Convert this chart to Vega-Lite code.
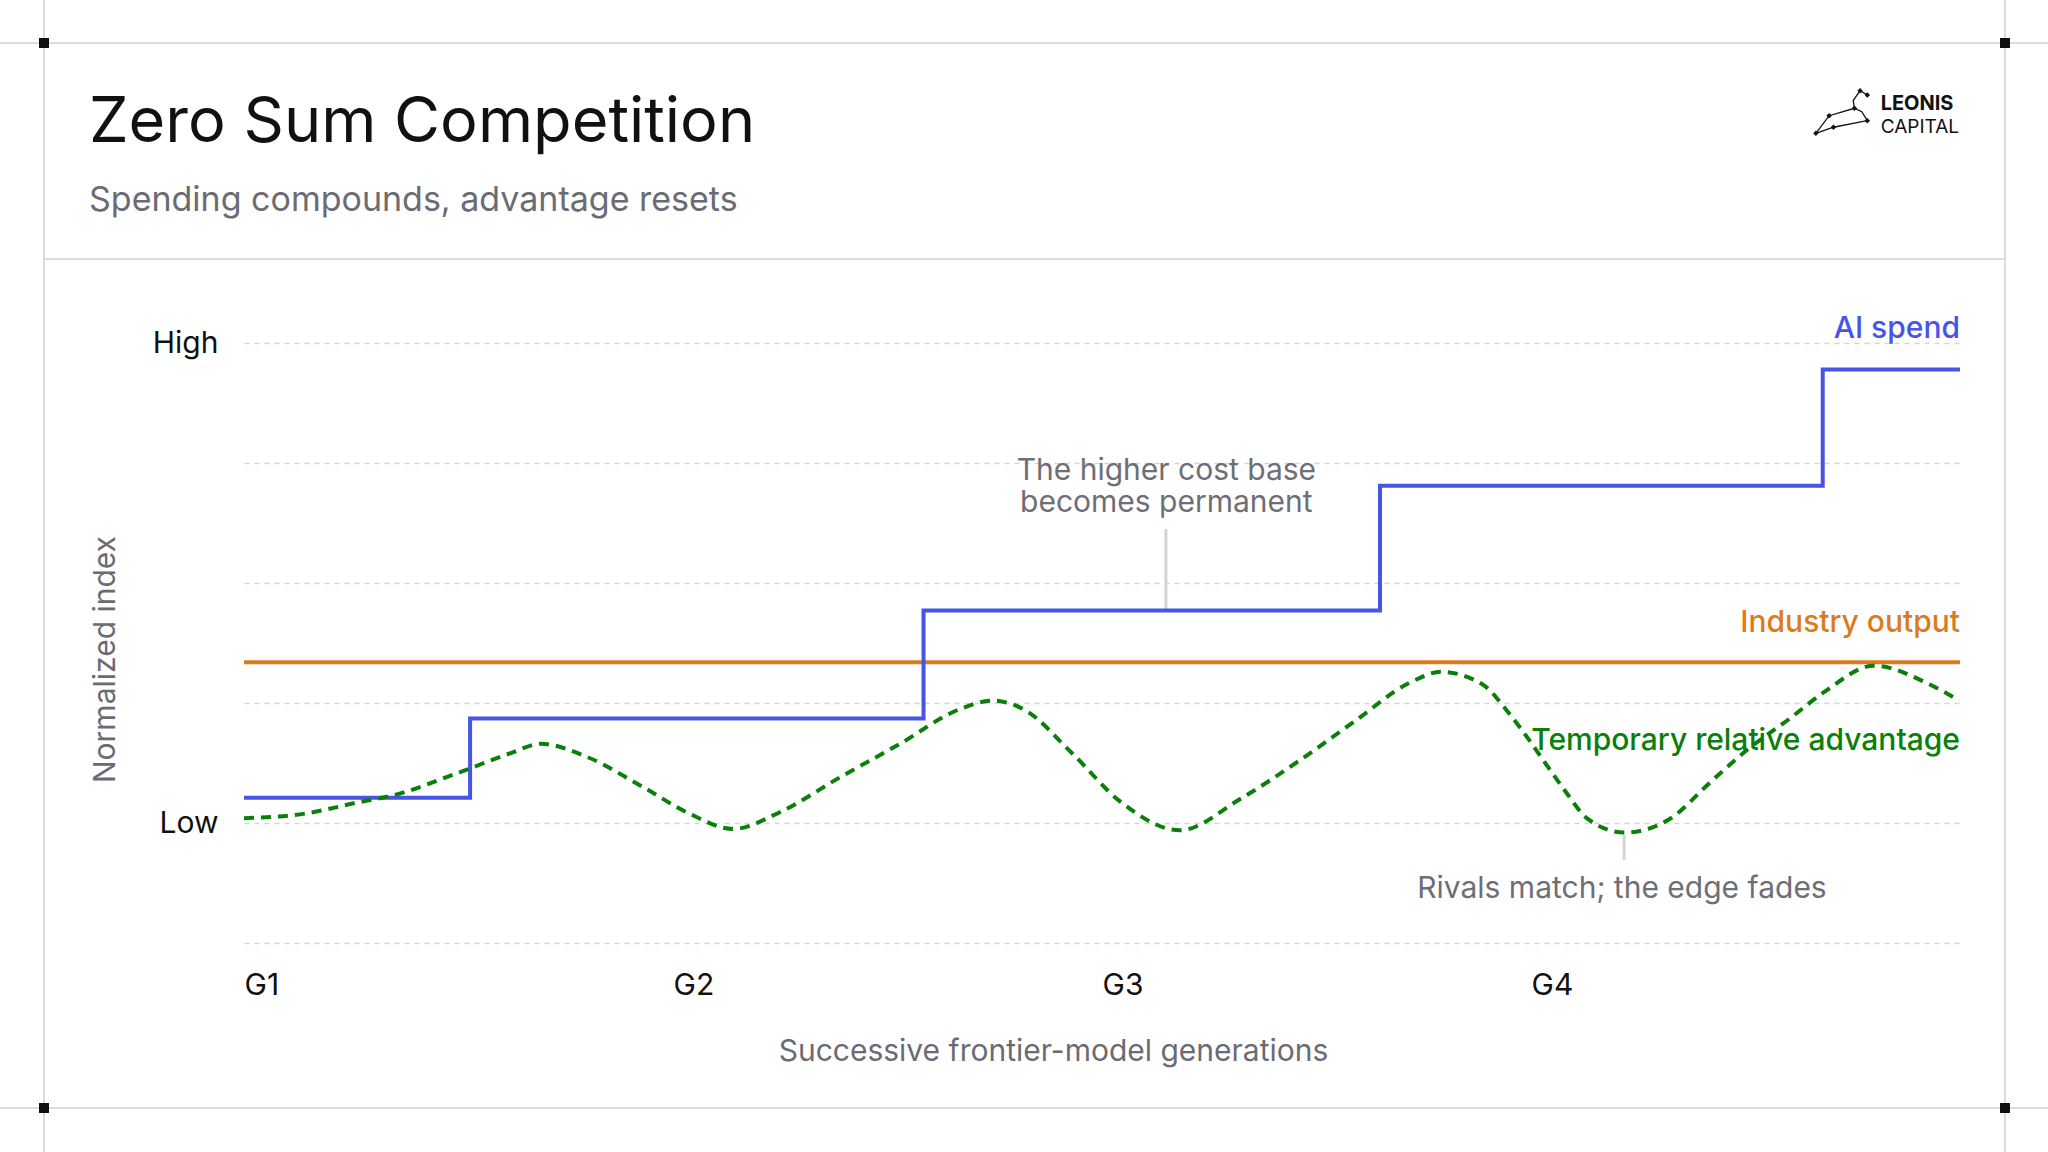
{
  "$schema": "https://vega.github.io/schema/vega-lite/v6.json",
  "width": 1716,
  "height": 600,
  "autosize": "none",
  "padding": {"left": 244, "top": 343, "right": 88, "bottom": 209},
  "background": "#ffffff",
  "config": {
    "view": {"stroke": null},
    "text": {"font": "Inter"},
    "axis": {"labelFont": "Inter", "titleFont": "Inter"}
  },
  "datasets": {
    "frame": [
      {"x": -0.5688, "x2": 4.2051, "y": 7.5, "y2": 7.5},
      {"x": -0.4662, "x2": 4.1049, "y": 5.7, "y2": 5.7},
      {"x": -0.5688, "x2": 4.2051, "y": -1.375, "y2": -1.375},
      {"x": -0.4662, "x2": -0.4662, "y": 7.8583, "y2": -1.7417},
      {"x": 4.1049, "x2": 4.1049, "y": 7.8583, "y2": -1.7417}
    ],
    "corners": [
      {"x": -0.4662, "y": 7.5},
      {"x": 4.1049, "y": 7.5},
      {"x": -0.4662, "y": -1.375},
      {"x": 4.1049, "y": -1.375}
    ],
    "heading": [
      {"line": "Zero Sum Competition", "x": -0.3613, "y": 6.6775}
    ],
    "subheading": [
      {"line": "Spending compounds, advantage resets", "x": -0.3613, "y": 6.1025}
    ],
    "output": [
      {"series": "Industry output", "x": 0, "y": 2.34},
      {"series": "Industry output", "x": 4, "y": 2.34}
    ],
    "spend": [
      {"series": "AI spend", "x": 0, "y": 1.21},
      {"series": "AI spend", "x": 0.527, "y": 1.87},
      {"series": "AI spend", "x": 1.584, "y": 2.77},
      {"series": "AI spend", "x": 2.648, "y": 3.81},
      {"series": "AI spend", "x": 3.68, "y": 4.78},
      {"series": "AI spend", "x": 4.0, "y": 4.78}
    ],
    "advantage": [
      {"series": "Temporary relative advantage", "x": 0.0, "y": 1.04},
      {"series": "Temporary relative advantage", "x": 0.145, "y": 1.08},
      {"series": "Temporary relative advantage", "x": 0.263, "y": 1.17},
      {"series": "Temporary relative advantage", "x": 0.347, "y": 1.23},
      {"series": "Temporary relative advantage", "x": 0.501, "y": 1.42},
      {"series": "Temporary relative advantage", "x": 0.62, "y": 1.58},
      {"series": "Temporary relative advantage", "x": 0.692, "y": 1.66},
      {"series": "Temporary relative advantage", "x": 0.8, "y": 1.55},
      {"series": "Temporary relative advantage", "x": 0.93, "y": 1.3},
      {"series": "Temporary relative advantage", "x": 1.037, "y": 1.08},
      {"series": "Temporary relative advantage", "x": 1.14, "y": 0.95},
      {"series": "Temporary relative advantage", "x": 1.249, "y": 1.09},
      {"series": "Temporary relative advantage", "x": 1.389, "y": 1.38},
      {"series": "Temporary relative advantage", "x": 1.529, "y": 1.66},
      {"series": "Temporary relative advantage", "x": 1.669, "y": 1.95},
      {"series": "Temporary relative advantage", "x": 1.744, "y": 2.02},
      {"series": "Temporary relative advantage", "x": 1.816, "y": 1.95},
      {"series": "Temporary relative advantage", "x": 1.932, "y": 1.575},
      {"series": "Temporary relative advantage", "x": 2.042, "y": 1.18},
      {"series": "Temporary relative advantage", "x": 2.182, "y": 0.94},
      {"series": "Temporary relative advantage", "x": 2.322, "y": 1.2},
      {"series": "Temporary relative advantage", "x": 2.462, "y": 1.525},
      {"series": "Temporary relative advantage", "x": 2.586, "y": 1.84},
      {"series": "Temporary relative advantage", "x": 2.718, "y": 2.17},
      {"series": "Temporary relative advantage", "x": 2.79, "y": 2.26},
      {"series": "Temporary relative advantage", "x": 2.889, "y": 2.15},
      {"series": "Temporary relative advantage", "x": 2.943, "y": 1.94},
      {"series": "Temporary relative advantage", "x": 2.99, "y": 1.72},
      {"series": "Temporary relative advantage", "x": 3.037, "y": 1.48},
      {"series": "Temporary relative advantage", "x": 3.083, "y": 1.25},
      {"series": "Temporary relative advantage", "x": 3.13, "y": 1.04},
      {"series": "Temporary relative advantage", "x": 3.219, "y": 0.92},
      {"series": "Temporary relative advantage", "x": 3.326, "y": 1.04},
      {"series": "Temporary relative advantage", "x": 3.415, "y": 1.33},
      {"series": "Temporary relative advantage", "x": 3.504, "y": 1.61},
      {"series": "Temporary relative advantage", "x": 3.603, "y": 1.87},
      {"series": "Temporary relative advantage", "x": 3.683, "y": 2.09},
      {"series": "Temporary relative advantage", "x": 3.799, "y": 2.31},
      {"series": "Temporary relative advantage", "x": 3.932, "y": 2.15},
      {"series": "Temporary relative advantage", "x": 3.998, "y": 2.02}
    ],
    "seriesLabels": [
      {"series": "AI spend", "x": 4, "y": 5.04},
      {"series": "Industry output", "x": 4, "y": 2.594},
      {"series": "Temporary relative advantage", "x": 4, "y": 1.608}
    ],
    "notes": [
      {"note": "The higher cost base\nbecomes permanent", "x": 2.15, "y": 3.858},
      {"note": "Rivals match; the edge fades", "x": 3.212, "y": 0.371}
    ],
    "connectors": [
      {"x": 2.149, "y": 2.77, "y2": 3.45},
      {"x": 3.217, "y": 0.9, "y2": 0.69}
    ],
    "logoLines": [
      {"seg": "a", "order": 1, "x": 3.664, "y": 6.747},
      {"seg": "a", "order": 2, "x": 3.695, "y": 6.894},
      {"seg": "a", "order": 3, "x": 3.754, "y": 6.956},
      {"seg": "a", "order": 4, "x": 3.771, "y": 6.928},
      {"seg": "a", "order": 5, "x": 3.784, "y": 6.853},
      {"seg": "a", "order": 6, "x": 3.705, "y": 6.798},
      {"seg": "a", "order": 7, "x": 3.664, "y": 6.747},
      {"seg": "b", "order": 1, "x": 3.754, "y": 6.956},
      {"seg": "b", "order": 2, "x": 3.751, "y": 7.019},
      {"seg": "b", "order": 3, "x": 3.767, "y": 7.103},
      {"seg": "b", "order": 4, "x": 3.784, "y": 7.067}
    ],
    "logoStars": [
      {"x": 3.664, "y": 6.747},
      {"x": 3.695, "y": 6.894},
      {"x": 3.754, "y": 6.956},
      {"x": 3.784, "y": 6.853},
      {"x": 3.705, "y": 6.798},
      {"x": 3.767, "y": 7.103},
      {"x": 3.784, "y": 7.067}
    ]
  },
  "encoding": {
    "x": {
      "field": "x",
      "type": "quantitative",
      "scale": {"domain": [0, 4], "nice": false, "zero": false},
      "axis": {
        "values": [0, 1, 2, 3],
        "labelExpr": "'G' + (datum.value + 1)",
        "labelAlign": "left",
        "labelFlush": false,
        "labelOverlap": false,
        "grid": false,
        "domain": false,
        "ticks": false,
        "tickSize": 0,
        "labelPadding": 27,
        "labelFontSize": 30,
        "labelColor": "#111111",
        "title": "Successive frontier-model generations",
        "titleFontSize": 30,
        "titleFontWeight": 400,
        "titleColor": "#6b6b73",
        "titleX": 809,
        "titleY": 108,
        "titleBaseline": "middle"
      }
    },
    "y": {
      "field": "y",
      "type": "quantitative",
      "scale": {"domain": [0, 5], "nice": false, "zero": false},
      "axis": {
        "values": [0, 1, 2, 3, 4, 5],
        "labelExpr": "datum.value == 5 ? 'High' : datum.value == 1 ? 'Low' : ''",
        "grid": true,
        "gridDash": [5, 5],
        "gridColor": "#d4d4d4",
        "gridWidth": 1.5,
        "domain": false,
        "ticks": false,
        "tickSize": 0,
        "labelPadding": 26,
        "labelFontSize": 30,
        "labelColor": "#111111",
        "title": "Normalized index",
        "titleFontSize": 30,
        "titleFontWeight": 400,
        "titleColor": "#6b6b73",
        "titleX": -139,
        "titleY": 316,
        "titleBaseline": "middle",
        "titleAngle": -90
      }
    }
  },
  "layer": [
    {
      "data": {"name": "frame"},
      "mark": {"type": "rule", "color": "#dcdcdc", "strokeWidth": 2},
      "encoding": {"x2": {"field": "x2"}, "y2": {"field": "y2"}}
    },
    {
      "data": {"name": "corners"},
      "mark": {"type": "point", "shape": "square", "filled": true, "size": 100, "color": "#111111", "opacity": 1}
    },
    {
      "data": {"name": "heading"},
      "mark": {"type": "text", "align": "left", "baseline": "alphabetic", "fontSize": 63, "fontWeight": 400, "color": "#111111"},
      "encoding": {"text": {"field": "line"}}
    },
    {
      "data": {"name": "subheading"},
      "mark": {"type": "text", "align": "left", "baseline": "alphabetic", "fontSize": 34, "fontWeight": 400, "color": "#6b6b73"},
      "encoding": {"text": {"field": "line"}}
    },
    {
      "data": {"name": "connectors"},
      "mark": {"type": "rule", "color": "#d4d4d8", "strokeWidth": 3},
      "encoding": {"y2": {"field": "y2"}}
    },
    {
      "data": {"name": "seriesLabels"},
      "mark": {"type": "text", "align": "right", "baseline": "alphabetic", "fontSize": 30, "fontWeight": 500},
      "encoding": {
        "text": {"field": "series"},
        "color": {
          "field": "series",
          "type": "nominal",
          "scale": {"domain": ["AI spend", "Industry output", "Temporary relative advantage"], "range": ["#4654e8", "#dc7b1e", "#0a7f0a"]},
          "legend": null
        }
      }
    },
    {
      "data": {"name": "notes"},
      "mark": {"type": "text", "align": "center", "baseline": "alphabetic", "fontSize": 30, "lineBreak": "\n", "lineHeight": 32, "color": "#6e6e76"},
      "encoding": {"text": {"field": "note"}}
    },
    {
      "data": {"name": "output"},
      "mark": {"type": "line", "strokeWidth": 4},
      "encoding": {
        "color": {"field": "series", "type": "nominal", "legend": null}
      }
    },
    {
      "data": {"name": "spend"},
      "mark": {"type": "line", "strokeWidth": 4, "interpolate": "step-after"},
      "encoding": {
        "color": {"field": "series", "type": "nominal", "legend": null}
      }
    },
    {
      "data": {"name": "advantage"},
      "mark": {"type": "line", "strokeWidth": 4, "interpolate": "monotone", "strokeDash": [10, 7]},
      "encoding": {
        "color": {"field": "series", "type": "nominal", "legend": null}
      }
    },
    {
      "data": {"name": "logoLines"},
      "mark": {"type": "line", "color": "#111111", "strokeWidth": 1.3},
      "encoding": {"detail": {"field": "seg"}, "order": {"field": "order", "type": "quantitative"}}
    },
    {
      "data": {"name": "logoStars"},
      "mark": {"type": "point", "shape": "diamond", "filled": true, "size": 30, "color": "#111111", "opacity": 1}
    },
    {
      "data": {"values": [{"word": "LEONIS", "x": 3.815, "y": 6.942}]},
      "mark": {"type": "text", "align": "left", "baseline": "alphabetic", "fontSize": 20, "fontWeight": 700, "color": "#111111"},
      "encoding": {"text": {"field": "word"}}
    },
    {
      "data": {"values": [{"word": "CAPITAL", "x": 3.815, "y": 6.748}]},
      "mark": {"type": "text", "align": "left", "baseline": "alphabetic", "fontSize": 19, "fontWeight": 400, "color": "#111111"},
      "encoding": {"text": {"field": "word"}}
    }
  ]
}
